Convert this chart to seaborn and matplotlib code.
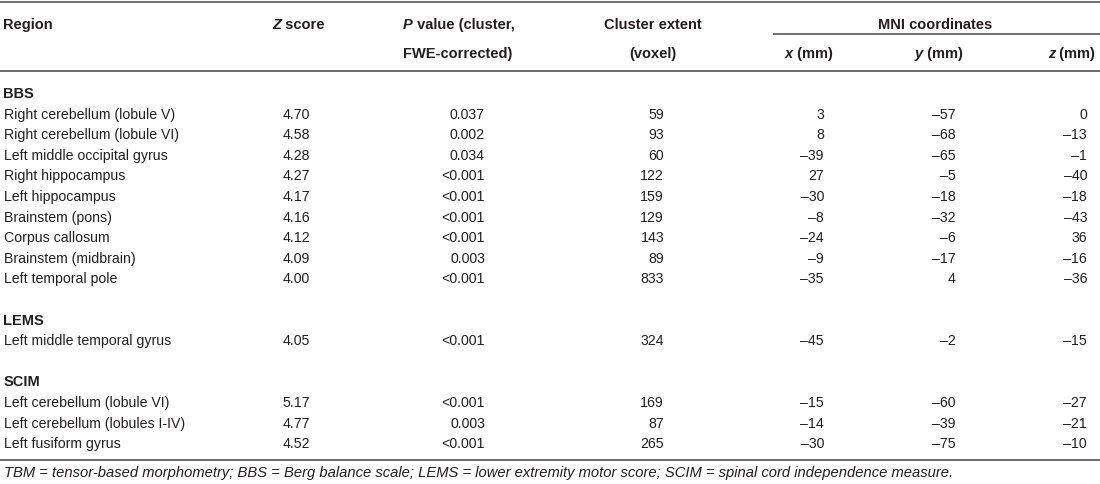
import numpy as np
import pandas as pd
import seaborn as sns
import matplotlib.pyplot as plt

# table content
groups = ["BBS", "LEMS", "SCIM"]
regions = [
    ["Right cerebellum (lobule V)", "Right cerebellum (lobule VI)", "Left middle occipital gyrus",
     "Right hippocampus", "Left hippocampus", "Brainstem (pons)", "Corpus callosum",
     "Brainstem (midbrain)", "Left temporal pole"],
    ["Left middle temporal gyrus"],
    ["Left cerebellum (lobule VI)", "Left cerebellum (lobules I-IV)", "Left fusiform gyrus"],
]
z_scores = [
    [4.70, 4.58, 4.28, 4.27, 4.17, 4.16, 4.12, 4.09, 4.00],
    [4.05],
    [5.17, 4.77, 4.52],
]
p_values = [
    ["0.037", "0.002", "0.034", "<0.001", "<0.001", "<0.001", "<0.001", "0.003", "<0.001"],
    ["<0.001"],
    ["<0.001", "0.003", "<0.001"],
]
cluster_extent = [
    [59, 93, 60, 122, 159, 129, 143, 89, 833],
    [324],
    [169, 87, 265],
]
mni_x = [[3, 8, -39, 27, -30, -8, -24, -9, -35], [-45], [-15, -14, -30]]
mni_y = [[-57, -68, -65, -5, -18, -32, -6, -17, 4], [-2], [-60, -39, -75]]
mni_z = [[0, -13, -1, -40, -18, -43, 36, -16, -36], [-15], [-27, -21, -10]]

footnote = ("TBM = tensor-based morphometry; BBS = Berg balance scale; "
            "LEMS = lower extremity motor score; SCIM = spinal cord independence measure.")

sns.set_theme(style="white")
plt.rcParams["font.family"] = ["Liberation Sans", "DejaVu Sans"]

TXT = "#231f20"
LINE = "#6d6e71"
FS = 10.2      # body
FSH = 10.5     # headers


def fmt_int(v):
    return str(v).replace("-", "\u2013")


# build a long table, one line per printed row
rows = []
for g, name in enumerate(groups):
    rows.append({"kind": "group", "label": name})
    for i in range(len(regions[g])):
        rows.append({"kind": "row", "label": regions[g][i],
                     "z": f"{z_scores[g][i]:.2f}", "p": p_values[g][i],
                     "n": str(cluster_extent[g][i]),
                     "x": fmt_int(mni_x[g][i]), "y": fmt_int(mni_y[g][i]),
                     "zz": fmt_int(mni_z[g][i])})
    if g < len(groups) - 1:
        rows.append({"kind": "blank"})
df = pd.DataFrame(rows)

fig = plt.figure(figsize=(11, 4.85), dpi=100)
ax = fig.add_axes([0, 0, 1, 1])
ax.set_xlim(0, 1100)
ax.set_ylim(485, 0)
ax.axis("off")

# column anchors (right aligned numbers)
cols = {"z": 310, "p": 485, "n": 664, "x": 824, "y": 956, "zz": 1087}

y0, step = 93, 20.6
for i, r in df.iterrows():
    yc = y0 + step * i + 5
    if r["kind"] == "group":
        ax.text(3.5, yc, r["label"], fontsize=FSH, fontweight="bold", color=TXT, va="baseline")
    elif r["kind"] == "row":
        ax.text(3.5, yc, r["label"], fontsize=FS, color=TXT, va="baseline")
        for key, cx in cols.items():
            ax.text(cx, yc, r[key], fontsize=FS, color=TXT, va="baseline", ha="right")


def header(x, y, parts):
    # parts: list of (text, style), drawn one after the other
    t = ax.text(x, y, parts[0][0], fontsize=FSH, fontweight="bold", fontstyle=parts[0][1],
                color=TXT, va="baseline", ha="left")
    for txt, st in parts[1:]:
        t = ax.annotate(txt, xy=(1, 0), xycoords=t, fontsize=FSH, fontweight="bold",
                        fontstyle=st, color=TXT, va="bottom", ha="left")
    return t


h1, h2 = 24 + 5, 53 + 5
header(3.5, h1, [("Region", "normal")])
header(272, h1, [("Z", "italic"), (" score", "normal")])
header(403, h1, [("P", "italic"), (" value (cluster,", "normal")])
header(403, h2, [("FWE-corrected)", "normal")])
ax.text(653, h1, "Cluster extent", fontsize=FSH, fontweight="bold", color=TXT, va="baseline", ha="center")
ax.text(653, h2, "(voxel)", fontsize=FSH, fontweight="bold", color=TXT, va="baseline", ha="center")
ax.text(935, h1, "MNI coordinates", fontsize=FSH, fontweight="bold", color=TXT, va="baseline", ha="center")
header(785, h2, [("x", "italic"), (" (mm)", "normal")])
header(915, h2, [("y", "italic"), (" (mm)", "normal")])
header(1048, h2, [("z", "italic"), (" (mm)", "normal")])

# rules
for yy, xa, xb in [(2.5, 0, 1100), (72, 0, 1100), (35, 773, 1100), (461, 0, 1100)]:
    ax.plot([xa, xb], [yy, yy], color=LINE, lw=1.4, solid_capstyle="butt")

ax.text(3.5, 473 + 4.5, footnote, fontsize=10.65, fontstyle="italic", color=TXT, va="baseline")

fig.savefig("out.png", dpi=100)
